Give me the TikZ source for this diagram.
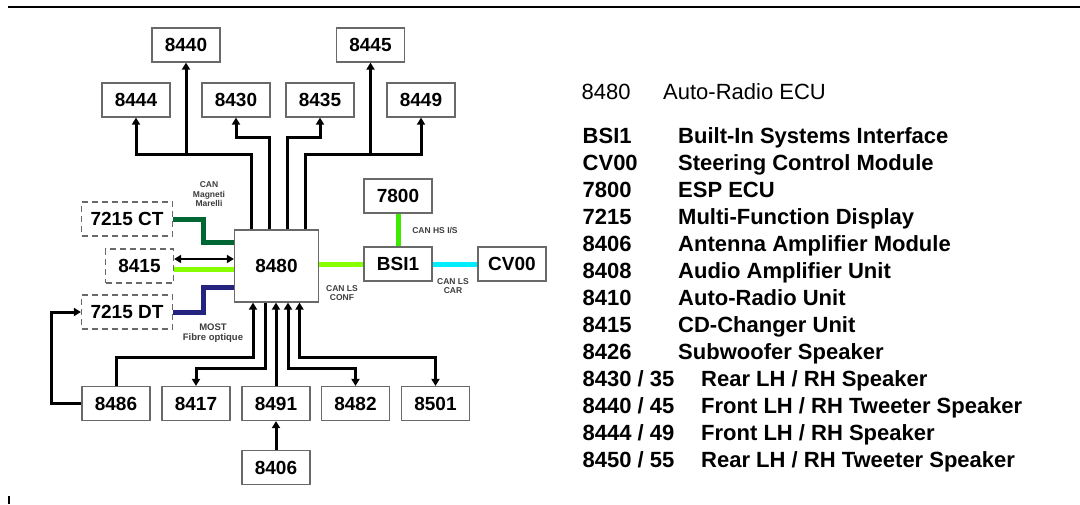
\documentclass[tikz,border=0pt]{standalone}
\usepackage{fontspec}
\setmainfont{Liberation Sans}
\usetikzlibrary{arrows.meta}

\definecolor{canmm}{RGB}{0,102,51}
\definecolor{mostblue}{RGB}{36,36,128}
\definecolor{canconf}{RGB}{136,255,0}
\definecolor{canhs}{RGB}{60,235,0}
\definecolor{cancar}{RGB}{0,238,255}
\definecolor{boxgray}{RGB}{105,105,105}
\definecolor{taggray}{RGB}{60,60,60}

\begin{document}
\begin{tikzpicture}[
    x=1pt, y=-1pt,
    font=\bfseries\fontsize{19}{19}\selectfont,
    >={Triangle[length=7pt,width=8pt]},
    ecubox/.style ={draw=boxgray, line width=1.2pt, fill=white,
                    minimum width=68pt, minimum height=34pt, inner sep=0pt},
    optbox/.style ={ecubox, dashed, dash pattern=on 6pt off 4pt},
    bus/.style    ={line width=3pt},
    can/.style    ={line width=5pt},
    tag/.style    ={font=\bfseries\fontsize{8.5}{9.5}\selectfont, text=taggray,
                    align=center, inner sep=0pt},
    legkey/.style ={anchor=base west, inner sep=0pt,
                    font=\bfseries\fontsize{22}{22}\selectfont},
    legtxt/.style ={legkey},
]
\useasboundingbox (0,0) rectangle (1080,504);

% page rule
\draw[line width=2pt] (8,7) -- (1080,7);
\draw[line width=2pt] (9,496) -- (9,504);

% =========================================================
% Centre: auto-radio ECU and its neighbours
% =========================================================
\node[ecubox, minimum width=84pt, minimum height=72pt] (c8480) at (276.5,266) {8480};

% speakers (top)
\node[ecubox] (c8440) at (186,45)   {8440};
\node[ecubox] (c8445) at (370.5,45) {8445};
\node[ecubox] (c8444) at (136,100)  {8444};
\node[ecubox] (c8430) at (236,100)  {8430};
\node[ecubox] (c8435) at (320,100)  {8435};
\node[ecubox] (c8449) at (421,100)  {8449};

% displays / CD changer (left)
\node[optbox, minimum width=91pt] (c7215ct) at (127,219)   {7215 CT};
\node[optbox]                     (c8415)   at (139.5,266) {8415};
\node[optbox, minimum width=91pt] (c7215dt) at (127,312)   {7215 DT};

% BSI side (right)
\node[ecubox] (c7800) at (398,196) {7800};
\node[ecubox] (cbsi)  at (398,264) {BSI1};
\node[ecubox] (ccv)   at (512,264) {CV00};

% bottom row
\node[ecubox] (c8486) at (116,403.5)   {8486};
\node[ecubox] (c8417) at (196,403.5)   {8417};
\node[ecubox] (c8491) at (276,403.5)   {8491};
\node[ecubox] (c8482) at (355.5,403.5) {8482};
\node[ecubox] (c8501) at (435.5,403.5) {8501};
\node[ecubox] (c8406) at (276,467.5)   {8406};

% ports and bus levels
\coordinate (t1) at ([xshift=-25.5pt]c8480.north);
\coordinate (t2) at ([xshift=-7.5pt]c8480.north);
\coordinate (t3) at ([xshift=10.5pt]c8480.north);
\coordinate (t4) at ([xshift=28.5pt]c8480.north);
\coordinate (b1) at ([xshift=-23.5pt]c8480.south);
\coordinate (b2) at ([xshift=-11.5pt]c8480.south);
\coordinate (b3) at (c8480.south -| c8491);
\coordinate (b4) at ([xshift=11.5pt]c8480.south);
\coordinate (b5) at ([xshift=23pt]c8480.south);
\coordinate (upout) at (0,154);
\coordinate (upin)  at (0,137);
\coordinate (dnout) at (0,357);
\coordinate (dnin)  at (0,368);

% top connections
\draw[bus,->] (t1) |- (upout -| c8444) -- (c8444.south);
\draw[bus,->] (upout -| c8440) -- (c8440.south);
\draw[bus,->] (t2) |- (upin -| c8430) -- (c8430.south);
\draw[bus,->] (t3) |- (upin -| c8435) -- (c8435.south);
\draw[bus,->] (t4) |- (upout -| c8449) -- (c8449.south);
\draw[bus,->] (upout -| c8445) -- (c8445.south);

% bottom connections
\draw[bus,->]  (c8486.north) |- (dnout -| b1) -- (b1);
\draw[bus,->]  (b2) |- (dnin -| c8417) -- (c8417.north);
\draw[bus,->]  (c8491.north) -- (b3);
\draw[bus,<->] (b4) |- (dnin -| c8482) -- (c8482.north);
\draw[bus,<->] (b5) |- (dnout -| c8501) -- (c8501.north);
\draw[bus,->]  (c8406.north) -- (c8491.south);
\draw[bus,->]  (c8486.west) -- ++(-30,0) |- (c7215dt.west);

% left buses
\coordinate (mmstep)   at (203,242);
\coordinate (moststep) at (203,287);
\coordinate (cdaudio)  at ([yshift=7pt]c8415.east);
\coordinate (cdcan)    at ([yshift=-3pt]c8415.east);
\draw[can, canmm]    (c7215ct.east) -| (mmstep) -- (mmstep -| c8480.west);
\draw[can, mostblue] (c7215dt.east) -| (moststep) -- (moststep -| c8480.west);
\draw[line width=2pt, <->] (cdaudio) -- (cdaudio -| c8480.west);
\draw[can, canconf]  (cdcan) -- (cdcan -| c8480.west);

% right buses
\draw[can, canconf] (cbsi.west -| c8480.east) -- (cbsi.west);
\draw[can, canhs]   (c7800.south) -- (cbsi.north);
\draw[can, cancar]  (cbsi.east) -- (ccv.west);

% bus labels
\node[tag] (lmm)   at (209,194.5) {CAN\\Magneti\\Marelli};
\node[tag] (lhs)   at (435,231)   {CAN HS I/S};
\node[tag] (lconf) at (342,293)   {CAN LS\\CONF};
\node[tag] (lcar)  at (453,286)   {CAN LS\\CAR};
\node[tag, font=\bfseries\fontsize{9.5}{9.5}\selectfont] (lmost) at (213,333)
    {MOST\\Fibre optique};

% =========================================================
% Legend
% =========================================================
\node[legkey, font=\mdseries\fontsize{22}{22}\selectfont] (k8480) at (581.5,99.6) {8480};
\node[legtxt, font=\mdseries\fontsize{22}{22}\selectfont] (d8480) at (663,99.6)   {Auto-Radio ECU};

\node[legkey] (kbsi)  at (582.5,143.6) {BSI1};
\node[legtxt] (dbsi)  at (678,143.6)   {Built-In Systems Interface};
\node[legkey] (kcv)   at (582.5,170.6) {CV00};
\node[legtxt] (dcv)   at (678,170.6)   {Steering Control Module};
\node[legkey] (k7800) at (582.5,197.6) {7800};
\node[legtxt] (d7800) at (678,197.6)   {ESP ECU};
\node[legkey] (k7215) at (582.5,224.6) {7215};
\node[legtxt] (d7215) at (678,224.6)   {Multi-Function Display};
\node[legkey] (k8406) at (582.5,251.6) {8406};
\node[legtxt] (d8406) at (678,251.6)   {Antenna Amplifier Module};
\node[legkey] (k8408) at (582.5,278.6) {8408};
\node[legtxt] (d8408) at (678,278.6)   {Audio Amplifier Unit};
\node[legkey] (k8410) at (582.5,305.6) {8410};
\node[legtxt] (d8410) at (678,305.6)   {Auto-Radio Unit};
\node[legkey] (k8415) at (582.5,332.6) {8415};
\node[legtxt] (d8415) at (678,332.6)   {CD-Changer Unit};
\node[legkey] (k8426) at (582.5,359.6) {8426};
\node[legtxt] (d8426) at (678,359.6)   {Subwoofer Speaker};
\node[legkey] (k8430) at (582.5,386.6) {8430 / 35};
\node[legtxt] (d8430) at (701,386.6)   {Rear LH / RH Speaker};
\node[legkey] (k8440) at (582.5,413.6) {8440 / 45};
\node[legtxt] (d8440) at (701,413.6)   {Front LH / RH Tweeter Speaker};
\node[legkey] (k8444) at (582.5,440.6) {8444 / 49};
\node[legtxt] (d8444) at (701,440.6)   {Front LH / RH Speaker};
\node[legkey] (k8450) at (582.5,467.6) {8450 / 55};
\node[legtxt] (d8450) at (701,467.6)   {Rear LH / RH Tweeter Speaker};

\end{tikzpicture}
\end{document}
